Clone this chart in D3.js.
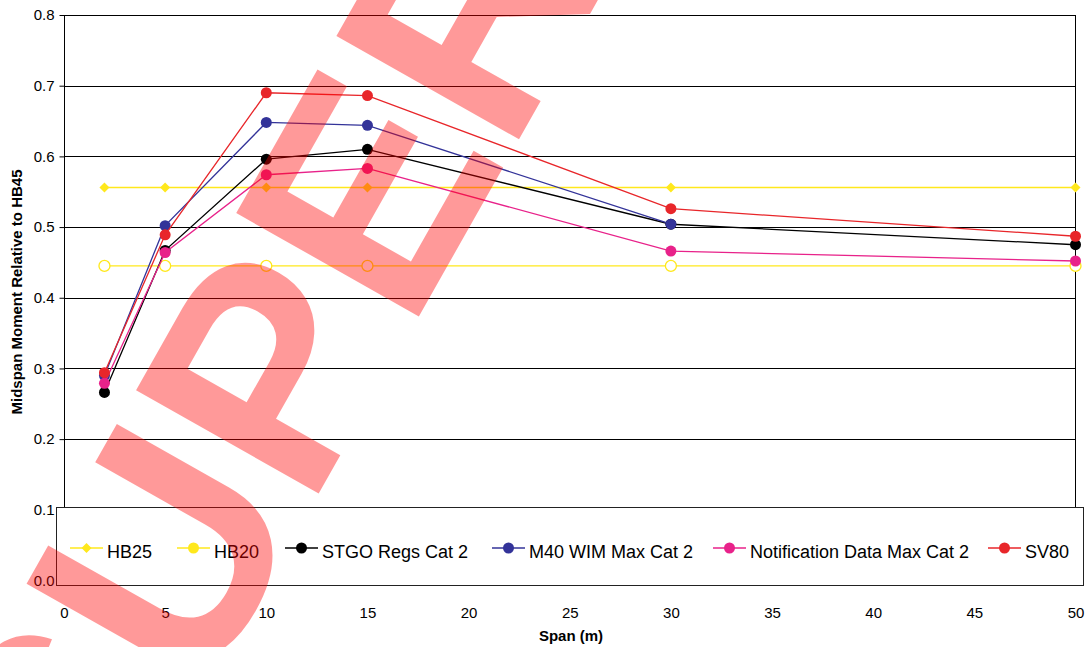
<!DOCTYPE html>
<html><head><meta charset="utf-8">
<script src="https://cdn.jsdelivr.net/npm/d3@7"></script>
<style>
html,body{margin:0;padding:0;background:#fff;}
svg{display:block;font-family:Arial,"Liberation Sans",sans-serif;}
</style></head>
<body>
<svg id="chart" width="1088" height="647"></svg>
<script>
const spans = [2, 5, 10, 15, 30, 50];
const seriesNames = ["HB25", "HB20", "STGO Regs Cat 2", "M40 WIM Max Cat 2", "Notification Data Max Cat 2", "SV80"];
const hb25 = [0.556, 0.556, 0.556, 0.556, 0.556, 0.556];
const hb20 = [0.445, 0.445, 0.445, 0.445, 0.445, 0.445];
const stgo = [0.266, 0.467, 0.596, 0.610, 0.504, 0.475];
const m40 = [0.290, 0.502, 0.648, 0.644, 0.504, null];
const notif = [0.279, 0.464, 0.574, 0.583, 0.466, 0.452];
const sv80 = [0.294, 0.489, 0.690, 0.686, 0.526, 0.487];
const xTicks = [0, 5, 10, 15, 20, 25, 30, 35, 40, 45, 50];
const yTicks = [0.0, 0.1, 0.2, 0.3, 0.4, 0.5, 0.6, 0.7, 0.8];
const watermark = "SUPERSEDED";

const colors = ["#ffe81c", "#ffe81c", "#000000", "#333399", "#e8228a", "#e8262a"];
const markers = ["diamond", "opencircle", "circle", "circle", "circle", "circle"];
const allValues = [hb25, hb20, stgo, m40, notif, sv80];

const svg = d3.select("#chart");
const FONT = "Arial, 'Liberation Sans', sans-serif";
const L = 64, R = 1075.5, T = 15, B = 580.5;
const x = d3.scaleLinear().domain([0, 50]).range([L, R]);
const y = d3.scaleLinear().domain([0, 0.8]).range([B, T]);

// gridlines
svg.append("g").selectAll("line").data(yTicks.filter(v => v > 0)).join("line")
  .attr("x1", L).attr("x2", R).attr("y1", d => Math.round(y(d)) + 0.5).attr("y2", d => Math.round(y(d)) + 0.5)
  .attr("stroke", "#000").attr("stroke-width", 1);
// frame
svg.append("line").attr("x1", L + 0.5).attr("x2", L + 0.5).attr("y1", T).attr("y2", B).attr("stroke", "#000");
svg.append("line").attr("x1", R).attr("x2", R).attr("y1", T).attr("y2", B).attr("stroke", "#000");

// y axis ticks (lines only, labels drawn later above the legend)
const gyTicks = svg.append("g").attr("transform", `translate(${L + 0.5},0)`)
  .call(d3.axisLeft(y).tickValues(yTicks).tickFormat("").tickSize(5));
gyTicks.select(".domain").remove();

// x axis
const xAxis = d3.axisBottom(x).tickValues(xTicks).tickSize(5).tickPadding(22);
const gx = svg.append("g").attr("transform", `translate(0,${B})`).call(xAxis);
gx.select(".domain").attr("stroke", "#000");
gx.selectAll("text").attr("font-size", 15).attr("fill", "#000").attr("font-family", FONT);

// series
const line = d3.line().defined(d => d[1] != null).x(d => x(d[0])).y(d => y(d[1]));
function drawMarker(g, type, cx, cy, color) {
  if (type === "diamond") {
    const s = 5;
    g.append("path").attr("d", `M${cx},${cy - s}L${cx + s},${cy}L${cx},${cy + s}L${cx - s},${cy}Z`).attr("fill", color);
  } else if (type === "opencircle") {
    g.append("circle").attr("cx", cx).attr("cy", cy).attr("r", 5.5).attr("fill", "#fff").attr("stroke", color).attr("stroke-width", 1.3);
  } else {
    g.append("circle").attr("cx", cx).attr("cy", cy).attr("r", 5.5).attr("fill", color);
  }
}
allValues.forEach((vals, i) => {
  const pts = spans.map((s, j) => [s, vals[j]]);
  const g = svg.append("g");
  g.append("path").attr("d", line(pts)).attr("fill", "none").attr("stroke", colors[i]).attr("stroke-width", 1.3);
  pts.filter(p => p[1] != null).forEach(p => drawMarker(g, markers[i], x(p[0]), y(p[1]), colors[i]));
});

// legend
const lg = svg.append("g");
lg.append("rect").attr("x", 56.5).attr("y", 507.5).attr("width", 1027).attr("height", 78)
  .attr("fill", "#fff").attr("stroke", "#222").attr("stroke-width", 1);
const legX = [70, 177, 285, 492, 713, 988];
const legY = 548;
seriesNames.forEach((name, i) => {
  const g = lg.append("g");
  g.append("line").attr("x1", legX[i]).attr("x2", legX[i] + 33).attr("y1", legY).attr("y2", legY)
    .attr("stroke", colors[i]).attr("stroke-width", 1.3);
  const mt = markers[i] === "opencircle" ? "circle" : markers[i];
  drawMarker(g, mt, legX[i] + 16.5, legY, colors[i]);
  g.append("text").attr("x", legX[i] + 37).attr("y", legY + 4).attr("dy", "0.35em")
    .attr("font-size", 18).attr("fill", "#000").text(name);
});

// y tick labels
const gy = svg.append("g").attr("transform", `translate(${L + 0.5},0)`)
  .call(d3.axisLeft(y).tickValues(yTicks).tickFormat(d3.format(".1f")).tickSize(0).tickPadding(10));
gy.select(".domain").remove();
gy.selectAll("text").attr("font-size", 15).attr("fill", "#000").attr("font-family", FONT);

// axis titles
svg.append("text").attr("x", 571).attr("y", 641).attr("text-anchor", "middle")
  .attr("font-size", 15).attr("font-weight", "bold").text("Span (m)");
svg.append("text").attr("transform", "translate(22,292) rotate(-90)").attr("text-anchor", "middle")
  .attr("font-size", 15).attr("font-weight", "bold").text("Midspan Moment Relative to HB45");

// watermark
svg.append("text").attr("transform", "translate(100,880) rotate(-60.5)")
  .attr("font-size", 305).attr("font-weight", "bold").attr("fill", "rgba(255,0,0,0.4)")
  .attr("font-family", FONT).text(watermark);
</script>
</body></html>
